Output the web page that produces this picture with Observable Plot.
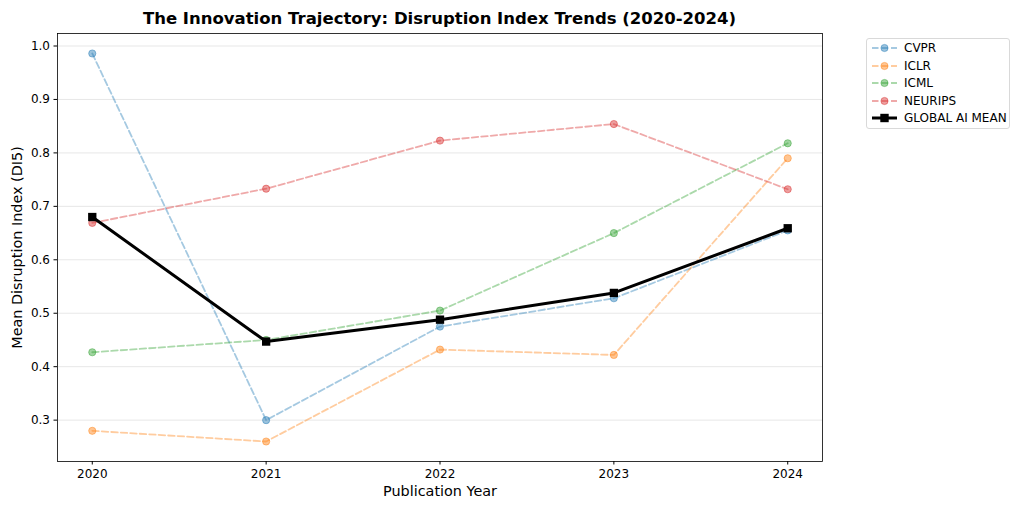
<!DOCTYPE html>
<html>
<head>
<meta charset="utf-8">
<script src="https://cdn.jsdelivr.net/npm/d3@7"></script>
<script src="https://cdn.jsdelivr.net/npm/@observablehq/plot@0.6"></script>
<style>
  html, body { margin: 0; padding: 0; background: #fff; }
  #wrap { position: relative; width: 1024px; height: 512px; font-family: "DejaVu Sans", sans-serif; }
  #title { position: absolute; left: 57px; width: 765px; top: 9px; text-align: center; font-weight: bold; font-size: 16.5px; color: #000; }
  #legend { position: absolute; left: 866px; top: 38px; width: 142px; height: 89px; border: 1px solid #d9d9d9; border-radius: 3px; background: #fff; }
  .item { position: absolute; left: 0; height: 16px; font-size: 12px; color: #000; }
  .item svg { position: absolute; left: 3px; top: 0; }
  .item span { position: absolute; left: 37px; top: 1px; white-space: nowrap; }
</style>
</head>
<body>
<div id="wrap">
  <div id="chart"></div>
  <div id="title">The Innovation Trajectory: Disruption Index Trends (2020-2024)</div>
  <div id="legend"></div>
</div>
<script>
const years = [2020, 2021, 2022, 2023, 2024];
const seriesNames = ["CVPR", "ICLR", "ICML", "NEURIPS"];
const cvpr = [0.986, 0.300, 0.475, 0.528, 0.655];
const iclr = [0.280, 0.260, 0.432, 0.422, 0.790];
const icml = [0.427, 0.450, 0.505, 0.650, 0.818];
const neurips = [0.669, 0.733, 0.823, 0.854, 0.732];
const globalMean = [0.680, 0.447, 0.488, 0.538, 0.659];
const colors = ["#1f77b4", "#ff7f0e", "#2ca02c", "#d62728"];
const yTicks = [0.3, 0.4, 0.5, 0.6, 0.7, 0.8, 0.9, 1.0];
const meanName = "GLOBAL AI MEAN";

const seriesValues = [cvpr, iclr, icml, neurips];
const rows = [];
seriesNames.forEach((s, i) => years.forEach((y, j) => rows.push({series: s, year: y, value: seriesValues[i][j]})));
const meanRows = years.map((y, j) => ({year: y, value: globalMean[j]}));

const chart = Plot.plot({
  width: 1024,
  height: 512,
  marginLeft: 57,
  marginRight: 202,
  marginTop: 33,
  marginBottom: 51,
  style: {fontFamily: "DejaVu Sans, sans-serif", fontSize: "12px", color: "#000", background: "#fff"},
  x: {domain: [2019.8, 2024.2], ticks: years, tickFormat: d => String(d)},
  y: {domain: [0.2226, 1.0234], ticks: yTicks, tickFormat: d3.format(".1f")},
  color: {domain: seriesNames, range: colors},
  marks: [
    Plot.ruleY(yTicks, {stroke: "#b0b0b0", strokeOpacity: 0.3, strokeWidth: 1}),
    Plot.line(rows, {x: "year", y: "value", z: "series", stroke: "series", strokeOpacity: 0.4, strokeWidth: 1.8, strokeDasharray: "6.5,3"}),
    Plot.dot(rows, {x: "year", y: "value", fill: "series", fillOpacity: 0.45, stroke: "series", strokeOpacity: 0.45, strokeWidth: 1, r: 3.6}),
    Plot.line(meanRows, {x: "year", y: "value", stroke: "#000", strokeWidth: 3}),
    Plot.dot(meanRows, {x: "year", y: "value", symbol: "square", fill: "#000", r: 4.7}),
    Plot.frame({stroke: "#000", strokeWidth: 0.8}),
    Plot.axisX({ticks: years, tickFormat: d => String(d), tickSize: 3.5, tickPadding: 4, fontSize: "12px", label: null}),
    Plot.axisX({ticks: [], tickSize: 0, label: "Publication Year", labelAnchor: "center", labelArrow: "none", labelOffset: 34, fontSize: "14.4px"}),
    Plot.axisY({ticks: yTicks, tickFormat: d3.format(".1f"), tickSize: 3.5, tickPadding: 4, fontSize: "12px", label: null}),
    Plot.axisY({ticks: [], tickSize: 0, label: "Mean Disruption Index (DI5)", labelAnchor: "center", labelArrow: "none", labelOffset: 46, fontSize: "14.4px"})
  ]
});
document.getElementById("chart").appendChild(chart);

// legend
const legend = document.getElementById("legend");
const entries = seriesNames.map((s, i) => ({name: s, color: colors[i], mean: false})).concat([{name: meanName, color: "#000", mean: true}]);
entries.forEach((e, i) => {
  const div = document.createElement("div");
  div.className = "item";
  div.style.top = (1 + i * 17.6) + "px";
  const sw = e.mean
    ? `<svg width="30" height="16"><line x1="2" y1="8" x2="27" y2="8" stroke="#000" stroke-width="3"/><rect x="10.3" y="3.8" width="8.4" height="8.4" fill="#000"/></svg>`
    : `<svg width="30" height="16"><line x1="2" y1="8" x2="27" y2="8" stroke="${e.color}" stroke-opacity="0.4" stroke-width="1.8" stroke-dasharray="6.5,3"/><circle cx="14.5" cy="8" r="3.6" fill="${e.color}" fill-opacity="0.45" stroke="${e.color}" stroke-opacity="0.45"/></svg>`;
  div.innerHTML = sw + `<span>${e.name}</span>`;
  legend.appendChild(div);
});
</script>
</body>
</html>
